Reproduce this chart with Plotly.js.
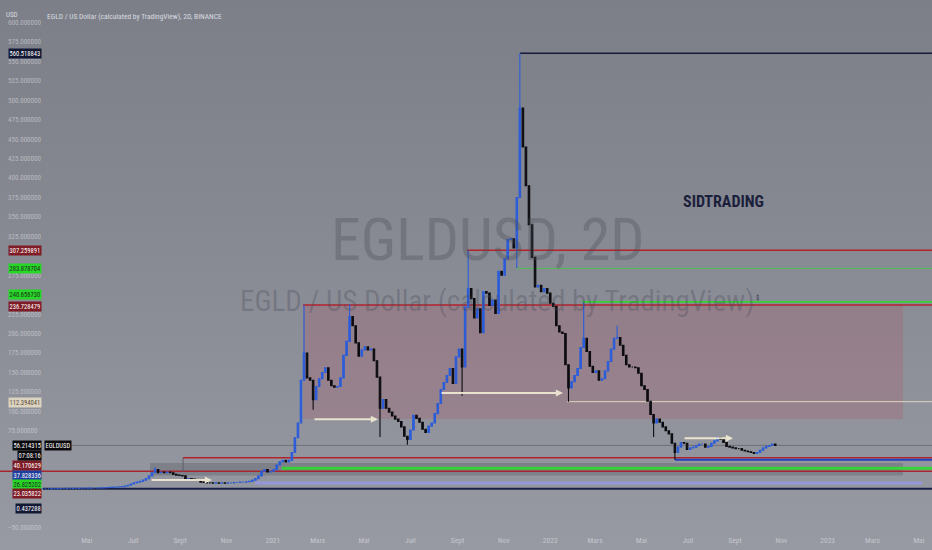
<!DOCTYPE html>
<html><head><meta charset="utf-8">
<script src="https://cdn.plot.ly/plotly-3.0.1.min.js"></script>
<style>
html,body{margin:0;padding:0;width:932px;height:550px;overflow:hidden;
background:linear-gradient(to bottom,#7c7f88 0%,#878a93 45%,#979aa3 100%);}
#chart{width:932px;height:550px;}
</style>
</head><body><div id="chart"></div>
<script>
// ---------- data ----------
const startDate = '2020-03-04';
const stepDays = 4;
const closes = [
 0.5,0.5,0.5,0.6,0.6,0.7,0.8,0.8,0.9,0.9,
 1.0,1.0,1.1,1.2,1.2,1.3,1.4,1.4,1.5,1.6,
 1.8,2.0,2.2,2.5,2.7,3.0,3.2,4,5,6.5,
 8,9,10,11.5,13.5,17,21,25,21,22,
 21,22,21,19,18,17.5,17,13,13.5,13,
 12,11,9,8.5,8,8,7.5,8,7.5,8,
 7.5,8,8,8.5,8.5,9,9,9.5,10,11.5,
 13.5,17,23,25,22,23,25,31,35,37,
 35,37,47,66,85,140,175,143,140,115,
 132,142,150,156,140,133,131,132,143,172,
 190,222,210,188,171,179,183,179,180,165,
 144,104,115,104,99,94,90,87,80,68,
 64,76,95,91,86,77,73,81,85,97,
 110,128,137,146,155,136,170,180,157,234,
 258,245,220,232,201,254,252,236,243,226,
 280,275,296,321,322,310,375,490,440,390,
 340,298,260,262,254,258,252,239,235,210,
 202,200,160,130,138,146,155,182,194,177,
 158,150,152,140,142,152,164,180,194,195,
 185,172,160,157,157,156,149,133,128,113,
 96,85,90,86,80,75,71,59,47,54,
 60,59,51,53,54,56,58,58,54,55,
 59,62,66,64,60,55,54,53,52,52,
 50,49,48,47,46,47,50,53,55,56,
 58,56.214315
];
const wickIdx = [37,86,89,101,111,120,138,140,156,157,173,178,189,201,208];
const wickVal = [28,236.73,102,238,67,57,120,307.26,283.9,560.52,112.4,240.66,210,67,37.83];

const tickDates = ['2020-03-01','2020-05-01','2020-07-01','2020-09-01','2020-11-01',
 '2021-01-01','2021-03-01','2021-05-01','2021-07-01','2021-09-01','2021-11-01',
 '2022-01-01','2022-03-01','2022-05-01','2022-07-01','2022-09-01','2022-11-01',
 '2023-01-01','2023-03-01','2023-05-01'];
const tickLabels = ['Mars','Mai','Juil','Sept','Nov','2021','Mars','Mai','Juil','Sept','Nov',
 '2022','Mars','Mai','Juil','Sept','Nov','2023','Mars','Mai'];
// price scale ticks left visible (the others sit under the price label boxes)
const priceTicks = [-50,75,100,125,150,175,200,225,275,325,350,375,400,425,450,475,500,525,550,575,600];

const levelValues = [560.518843,307.259891,283.878704,240.656730,236.728479,112.394041,56.214315,40.170629,37.828336,26.825202,23.035822,0.437288,7.9];
const labelValues = [560.518843,307.259891,283.878704,240.656730,236.728479,112.394041,56.214315,40.170629,37.828336,26.825202,23.035822,0.437288];
const countdown = '07:08:16';
const symbol = 'EGLDUSD';
const zoneTop = [236.728479, 33.6];
const zoneBottom = [90, 17.5];
const arrowValues = [89.8, 123.6, 65.4, 11.7];

// ---------- build candles ----------
const t0 = Date.UTC(2020,2,4);
const dates=[],opens=[],highs=[],lows=[];
for(let i=0;i<closes.length;i++){
  dates.push(new Date(t0+i*stepDays*86400000).toISOString().slice(0,10));
  const o = i===0?closes[0]:closes[i-1];
  opens.push(o);
  highs.push(Math.max(o,closes[i]));
  lows.push(Math.min(o,closes[i]));
}
wickIdx.forEach((k,j)=>{
  const w=wickVal[j];
  if(w>highs[k]) highs[k]=w; else if(w<lows[k]) lows[k]=w;
});

const W=932,H=550;
const px=x=>x/W, py=y=>1-y/H;
const FONT='Liberation Sans Narrow, Roboto Condensed, DejaVu Sans Condensed, Liberation Sans, sans-serif';

const levelStyle = [
 {x0:520,x1:932,c:'#161a3c',w:1.5},
 {x0:467,x1:932,c:'#b3232c',w:1.5},
 {x0:516,x1:932,c:'rgba(70,200,70,0.85)',w:1},
 {x0:582,x1:932,c:'#35d135',w:1.8},
 {x0:303,x1:932,c:'#b3232c',w:1.5},
 {x0:567,x1:932,c:'rgba(232,222,192,0.9)',w:1},
 {x0:45,x1:932,c:'rgba(100,100,110,0.75)',w:1},
 {x0:183,x1:932,c:'#b3232c',w:1.5},
 {x0:675,x1:932,c:'#2142b8',w:2},
 {x0:282,x1:932,c:'#37d237',w:3},
 {x0:0,x1:932,c:'#a8262e',w:1.5},
 {x0:43,x1:932,c:'#1b2046',w:2},
 {x0:255,x1:922,c:'rgba(150,150,232,0.8)',w:3}
];
const shapes=[];
shapes.push({type:'rect',xref:'paper',yref:'y',x0:px(303),x1:px(903),y0:zoneBottom[0],y1:zoneTop[0],
  fillcolor:'rgba(175,80,95,0.24)',line:{width:0},layer:'below'});
shapes.push({type:'rect',xref:'paper',yref:'y',x0:px(150),x1:px(903),y0:zoneBottom[1],y1:zoneTop[1],
  fillcolor:'rgba(80,81,90,0.3)',line:{width:0},layer:'below'});
levelValues.forEach((v,i)=>{
  const s=levelStyle[i];
  shapes.push({type:'line',xref:'paper',yref:'y',x0:px(s.x0),x1:px(s.x1),y0:v,y1:v,
    line:{color:s.c,width:s.w},layer:'below'});
});
shapes.push({type:'line',xref:'paper',yref:'y',x0:px(183),x1:px(183),y0:22,y1:levelValues[7],
  line:{color:'rgba(90,90,98,0.9)',width:1},layer:'below'});

const annotations=[];
annotations.push({xref:'paper',yref:'paper',x:px(488),y:py(240),xanchor:'center',text:'EGLDUSD, 2D',showarrow:false,
  font:{family:FONT,size:60,color:'rgba(70,72,85,0.32)'}});
annotations.push({xref:'paper',yref:'paper',x:px(497),y:py(301),xanchor:'center',text:'EGLD / US Dollar (calculated by TradingView)',showarrow:false,
  font:{family:FONT,size:29,color:'rgba(70,72,85,0.32)'}});
annotations.push({xref:'paper',yref:'paper',x:px(45),y:py(10),xanchor:'left',text:'EGLD / US Dollar (calculated by TradingView), 2D, BINANCE',
  showarrow:false,font:{family:FONT,size:7.5,color:'#d9dbe0'}});
annotations.push({xref:'paper',yref:'paper',x:px(4),y:py(8.5),xanchor:'left',text:'USD',showarrow:false,
  font:{family:FONT,size:7,color:'#d9dbe0'}});
annotations.push({xref:'paper',yref:'paper',x:px(723),y:py(201),xanchor:'center',text:'SIDTRADING',showarrow:false,
  font:{family:FONT,size:16,weight:'bold',color:'#1b1f3b'}});
annotations.push({xref:'paper',yref:'paper',x:px(757),y:py(298),xanchor:'center',text:'$',showarrow:false,
  font:{family:FONT,size:6.5,color:'#30324a'}});
const arrowSpan=[[313,378],[440,563],[683,733],[150,212]];
arrowValues.forEach((v,i)=>{
  const [a,b]=arrowSpan[i];
  annotations.push({xref:'paper',yref:'y',x:px(b),y:v,ax:-(b-a),ay:0,text:'',showarrow:true,
    arrowhead:2,arrowsize:0.8,arrowwidth:1.8,arrowcolor:'rgba(238,232,210,0.95)'});
});
const labelY=[53.5,250,269,294.5,306,402,445.5,465,475,484,493,508.5];
const labelBg=['#131834','#7e1b25','#27d627','#27d627','#7e1b25','#dcd4bf','#0a0a0c','#7e1b25','#1e3d9c','#27d627','#7e1b25','#131834'];
const labelFg=['#fff','#fff','#1d2d1d','#1d2d1d','#fff','#5a4c3c','#fff','#fff','#fff','#1d2d1d','#fff','#fff'];
labelValues.forEach((v,i)=>{
  annotations.push({xref:'paper',yref:'paper',x:px(42),y:py(labelY[i]),xanchor:'right',yanchor:'middle',
    text:v.toFixed(6),showarrow:false,bgcolor:labelBg[i],borderpad:0.5,
    font:{family:FONT,size:6.5,color:labelFg[i]}});
});
annotations.push({xref:'paper',yref:'paper',x:px(42),y:py(455),xanchor:'right',yanchor:'middle',
  text:countdown,showarrow:false,bgcolor:'#0a0a0c',borderpad:0.5,font:{family:FONT,size:6.5,color:'#fff'}});
annotations.push({xref:'paper',yref:'paper',x:px(44),y:py(445.5),xanchor:'left',yanchor:'middle',
  text:symbol,showarrow:false,bgcolor:'#0a0a0c',borderpad:0.5,font:{family:FONT,size:6.5,color:'#fff'}});

const trace={type:'candlestick',x:dates,open:opens,high:highs,low:lows,close:closes,
  increasing:{line:{color:'#2b5cd9',width:1.1},fillcolor:'#2b5cd9'},
  decreasing:{line:{color:'#0c0c10',width:1.1},fillcolor:'#0c0c10'},
  whiskerwidth:0,hoverinfo:'skip'};

const layout={width:W,height:H,margin:{l:0,r:0,t:0,b:0},
  paper_bgcolor:'rgba(0,0,0,0)',plot_bgcolor:'rgba(0,0,0,0)',showlegend:false,
  xaxis:{type:'date',range:['2020-01-08','2023-05-18 07:00'],showgrid:false,zeroline:false,showline:false,
    tickmode:'array',tickvals:tickDates,ticktext:tickLabels,ticks:'',ticklabelposition:'inside',ticklabelstandoff:3,
    tickfont:{family:FONT,size:7.5,color:'rgba(228,228,234,0.6)'},rangeslider:{visible:false},fixedrange:true},
  yaxis:{range:[-78.3,628.93],showgrid:false,zeroline:false,showline:false,tickmode:'array',tickvals:priceTicks,
    tickformat:'.6f',ticks:'',ticklabelposition:'inside',ticklabelstandoff:5,
    tickfont:{family:FONT,size:7,color:'rgba(228,228,234,0.55)'},fixedrange:true},
  shapes:shapes,annotations:annotations};
Plotly.newPlot('chart',[trace],layout,{displayModeBar:false,staticPlot:true});
</script></body></html>
